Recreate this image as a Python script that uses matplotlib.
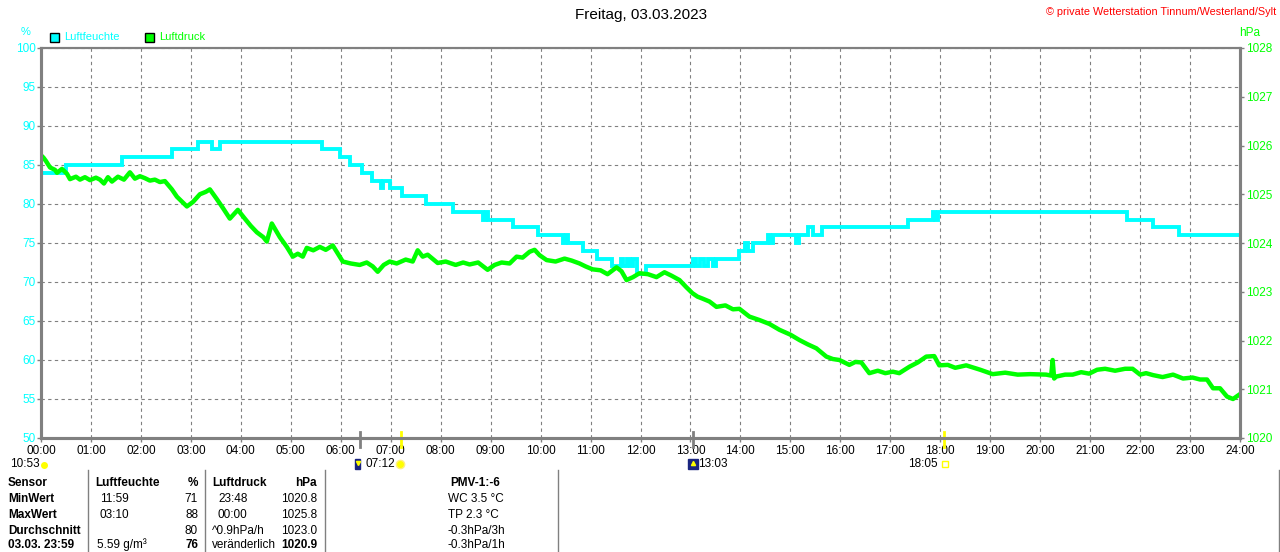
import matplotlib.pyplot as plt
import matplotlib.transforms as mtransforms
from matplotlib.lines import Line2D
from matplotlib.patches import Rectangle

plt.rcParams['font.family'] = ['Liberation Sans', 'DejaVu Sans']

CYAN = '#00FFFF'
GREEN = '#00FF00'
GRAY = '#808080'
YELLOW = '#FFFF00'
NAVY = '#1A2580'

# Luftfeuchte (%), hours since midnight, stepped values
hum_t = [0, 0.5, 1.62, 2.62, 3.14, 3.42, 3.58, 5.62, 5.98, 6.18, 6.42, 6.62,
         6.8, 6.85, 6.98, 7.22, 7.7, 8.25, 8.85, 8.9, 8.95, 9.45, 9.95, 10.45,
         10.5, 10.55, 10.85, 11.12, 11.43, 11.6, 11.65, 11.72, 11.78, 11.84,
         11.93, 12.12, 13.05, 13.12, 13.2, 13.28, 13.36, 13.45, 13.52, 13.6,
         13.98, 14.1, 14.15, 14.25, 14.55, 14.6, 14.65, 15.12, 15.17, 15.35,
         15.45, 15.63, 17.35, 17.85, 17.9, 17.95, 21.73, 22.25, 22.78, 24]
hum_v = [84, 85, 86, 87, 88, 87, 88, 87, 86, 85, 84, 83,
         82, 83, 82, 81, 80, 79, 78, 79, 78, 77, 76, 75,
         76, 75, 74, 73, 72, 73, 72, 73, 72, 73,
         71, 72, 73, 72, 73, 72, 73, 72, 73, 73,
         74, 75, 74, 75, 76, 75, 76, 75, 76, 77,
         76, 77, 78, 79, 78, 79, 78, 77, 76, 76]

# Luftdruck (hPa)
pres_t = [0, 0.05, 0.1, 0.18, 0.28, 0.32, 0.42, 0.52, 0.58, 0.7, 0.78, 0.88,
          0.98, 1.1, 1.18, 1.26, 1.34, 1.42, 1.54, 1.66, 1.78, 1.88, 1.98,
          2.08, 2.18, 2.28, 2.38, 2.48, 2.62, 2.72, 2.82, 2.92, 3.04, 3.18,
          3.3, 3.38, 3.52, 3.64, 3.78, 3.94, 4.08, 4.2, 4.32, 4.45, 4.52,
          4.62, 4.78, 4.92, 5.04, 5.14, 5.24, 5.32, 5.45, 5.58, 5.7, 5.84,
          6.04, 6.2, 6.38, 6.52, 6.64, 6.74, 6.86, 6.98, 7.12, 7.3, 7.44,
          7.54, 7.64, 7.74, 7.94, 8.1, 8.3, 8.45, 8.58, 8.75, 8.94, 9.08,
          9.22, 9.38, 9.52, 9.64, 9.78, 9.88, 9.98, 10.12, 10.3, 10.48, 10.62,
          10.78, 10.9, 11.04, 11.2, 11.34, 11.52, 11.62, 11.72, 11.85, 11.98,
          12.15, 12.32, 12.48, 12.62, 12.78, 12.92, 13.04, 13.14, 13.24, 13.38,
          13.52, 13.7, 13.85, 13.98, 14.18, 14.38, 14.58, 14.78, 15.0, 15.18,
          15.35, 15.52, 15.72, 15.85, 15.98, 16.18, 16.3, 16.42, 16.58, 16.75,
          16.9, 17.05, 17.18, 17.38, 17.55, 17.72, 17.88, 17.98, 18.15, 18.3,
          18.52, 18.8, 19.05, 19.3, 19.55, 19.8, 20.12, 20.22, 20.25, 20.28,
          20.32, 20.5, 20.65, 20.82, 20.98, 21.14, 21.3, 21.5, 21.7, 21.85,
          22.0, 22.12, 22.26, 22.45, 22.66, 22.86, 23.05, 23.2, 23.34, 23.46,
          23.6, 23.74, 23.86, 24]
pres_v = [1025.8, 1025.75, 1025.68, 1025.55, 1025.5, 1025.44, 1025.52, 1025.42,
          1025.31, 1025.36, 1025.3, 1025.35, 1025.29, 1025.34, 1025.3, 1025.22,
          1025.35, 1025.26, 1025.36, 1025.3, 1025.45, 1025.32, 1025.37,
          1025.33, 1025.28, 1025.3, 1025.25, 1025.27, 1025.1, 1024.95,
          1024.85, 1024.75, 1024.84, 1025.0, 1025.05, 1025.1, 1024.9, 1024.72,
          1024.5, 1024.68, 1024.5, 1024.35, 1024.22, 1024.12, 1024.03,
          1024.4, 1024.12, 1023.92, 1023.72, 1023.78, 1023.72, 1023.9,
          1023.85, 1023.92, 1023.86, 1023.95, 1023.62, 1023.58, 1023.55,
          1023.6, 1023.52, 1023.41, 1023.55, 1023.62, 1023.58, 1023.66,
          1023.62, 1023.85, 1023.72, 1023.76, 1023.59, 1023.62, 1023.55,
          1023.6, 1023.56, 1023.6, 1023.45, 1023.55, 1023.6, 1023.58, 1023.72,
          1023.7, 1023.82, 1023.86, 1023.75, 1023.65, 1023.62, 1023.68,
          1023.64, 1023.58, 1023.52, 1023.46, 1023.44, 1023.36, 1023.5,
          1023.42, 1023.24, 1023.3, 1023.38, 1023.36, 1023.3, 1023.4, 1023.33,
          1023.24, 1023.09, 1022.97, 1022.9, 1022.86, 1022.8, 1022.69, 1022.72,
          1022.64, 1022.65, 1022.49, 1022.42, 1022.34, 1022.22, 1022.12,
          1022.01, 1021.92, 1021.84, 1021.67, 1021.62, 1021.6, 1021.5, 1021.56,
          1021.55, 1021.33, 1021.38, 1021.33, 1021.36, 1021.33, 1021.46,
          1021.55, 1021.67, 1021.68, 1021.49, 1021.5, 1021.44, 1021.49, 1021.4,
          1021.31, 1021.34, 1021.3, 1021.31, 1021.3, 1021.28, 1021.6, 1021.22,
          1021.26, 1021.3, 1021.3, 1021.35, 1021.32, 1021.4, 1021.42, 1021.38,
          1021.42, 1021.42, 1021.3, 1021.33, 1021.29, 1021.25, 1021.3, 1021.22,
          1021.24, 1021.2, 1021.2, 1021.02, 1021.02, 1020.85, 1020.8, 1020.9]

hours = list(range(25))
hour_labels = ["%02d:00" % h for h in hours]
hum_ticks = [50, 55, 60, 65, 70, 75, 80, 85, 90, 95, 100]
pres_ticks = [1020, 1021, 1022, 1023, 1024, 1025, 1026, 1027, 1028]

grey_marks = [6.38, 13.05]    # Mond/Daemmerung
sun_marks = [7.2, 18.08]      # Sonnenaufgang / -untergang

# table columns: (text, x px, align, bold)
table_rows = [
    [("Sensor", 8, "left", True), ("Luftfeuchte", 95, "left", True), ("%", 198, "right", True),
     ("Luftdruck", 212, "left", True), ("hPa", 317, "right", True), ("PMV-1:-6", 475, "center", True)],
    [("MinWert", 8, "left", True), ("11:59", 100, "left", False), ("71", 198, "right", False),
     ("23:48", 218, "left", False), ("1020.8", 317, "right", False), ("WC 3.5 °C", 448, "left", False)],
    [("MaxWert", 8, "left", True), ("03:10", 100, "left", False), ("88", 198, "right", False),
     ("00:00", 218, "left", False), ("1025.8", 317, "right", False), ("TP 2.3 °C", 448, "left", False)],
    [("Durchschnitt", 8, "left", True), ("80", 198, "right", False),
     ("^0.9hPa/h", 212, "left", False), ("1023.0", 317, "right", False), ("-0.3hPa/3h", 447, "left", False)],
    [("03.03. 23:59", 8, "left", True), ("5.59 g/m³", 97, "left", False), ("76", 198, "right", True),
     ("veränderlich", 212, "left", False), ("1020.9", 317, "right", True), ("-0.3hPa/1h", 447, "left", False)],
]
row_y = [483, 499, 515, 531, 545]


def fx(px):
    return px / 1280


def fy(py):
    return 1 - py / 552


fig = plt.figure(figsize=(12.8, 5.52), dpi=100)
ax = fig.add_axes([fx(41), fy(438), (1240 - 41) / 1280, (438 - 48) / 552])
ax2 = ax.twinx()

ax.plot(hum_t, hum_v, color=CYAN, lw=2.8, drawstyle='steps-post', solid_joinstyle='miter')
ax2.plot(pres_t, pres_v, color=GREEN, lw=3.2)

ax.set_xlim(0, 24)
ax.set_ylim(50, 100)
ax2.set_ylim(1020, 1028)

ax.set_xticks(hours)
ax.set_xticklabels(hour_labels)
ax.set_yticks(hum_ticks)
ax2.set_yticks(pres_ticks)

ax.grid(True, color=GRAY, linestyle=(0, (3, 3)), linewidth=0.8)
ax.tick_params(axis='x', colors=GRAY, labelcolor='black', length=3, width=1, labelsize=8.5, pad=2)
ax.tick_params(axis='y', colors=GRAY, labelcolor=CYAN, length=3, width=1, labelsize=8.5, pad=1)
ax2.tick_params(axis='y', colors=GRAY, labelcolor=GREEN, length=3, width=1, labelsize=8.5, pad=1)

for a in (ax, ax2):
    for side in ('left', 'right', 'bottom'):
        a.spines[side].set_color(GRAY)
        a.spines[side].set_linewidth(2.2)
    a.spines['top'].set_color(GRAY)
    a.spines['top'].set_linewidth(1.5)

# markers under the time axis
trans = mtransforms.blended_transform_factory(ax.transData, ax.transAxes)
for t in grey_marks:
    ax.plot([t, t], [0.015, -0.022], transform=trans, color=GRAY, lw=2, clip_on=False, zorder=5)
for t in sun_marks:
    ax.plot([t, t], [0.015, -0.024], transform=trans, color=YELLOW, lw=2, clip_on=False, zorder=5)

# sun / moon times
fig.text(fx(10), fy(464), "10:53", fontsize=8.5, va='center')
fig.add_artist(Line2D([fx(44)], [fy(465)], marker='o', ms=4, color=YELLOW, transform=fig.transFigure))
fig.add_artist(Rectangle((fx(355), fy(469)), 5 / 1280, 10 / 552, color=NAVY, transform=fig.transFigure))
fig.add_artist(Line2D([fx(357.5)], [fy(463)], marker='v', ms=3, color=YELLOW, transform=fig.transFigure))
fig.text(fx(366), fy(464), "07:12", fontsize=8.5, va='center')
fig.add_artist(Line2D([fx(400)], [fy(464)], marker='o', ms=6, color=YELLOW, mec='#FFF080',
                      transform=fig.transFigure))
fig.add_artist(Rectangle((fx(688), fy(469)), 10 / 1280, 10 / 552, color=NAVY, transform=fig.transFigure))
fig.add_artist(Line2D([fx(693)], [fy(463)], marker='^', ms=3, color=YELLOW, transform=fig.transFigure))
fig.text(fx(698), fy(464), "13:03", fontsize=8.5, va='center')
fig.text(fx(938), fy(464), "18:05", fontsize=8.5, va='center', ha='right')
fig.add_artist(Line2D([fx(945)], [fy(464)], marker='s', ms=4, mfc='none', mec=YELLOW,
                      transform=fig.transFigure))

# titles and labels
fig.text(fx(641), fy(15), "Freitag, 03.03.2023", fontsize=11, ha='center', va='center')
fig.text(fx(1276), fy(12), "© private Wetterstation Tinnum/Westerland/Sylt", fontsize=7.8,
         color='#FF0000', ha='right', va='center')
fig.text(fx(26), fy(32), "%", fontsize=8, color=CYAN, ha='center', va='center')
fig.text(fx(1250), fy(33), "hPa", fontsize=8.5, color=GREEN, ha='center', va='center')

# legend
fig.add_artist(Rectangle((fx(50), fy(42)), 9 / 1280, 9 / 552, facecolor=CYAN, edgecolor='black',
                         lw=1, transform=fig.transFigure))
fig.text(fx(64), fy(37), "Luftfeuchte", fontsize=8, color=CYAN, va='center')
fig.add_artist(Rectangle((fx(145), fy(42)), 9 / 1280, 9 / 552, facecolor=GREEN, edgecolor='black',
                         lw=1, transform=fig.transFigure))
fig.text(fx(159), fy(37), "Luftdruck", fontsize=8, color=GREEN, va='center')

# table
for xs in (88, 205, 325, 558):
    fig.add_artist(Line2D([fx(xs), fx(xs)], [fy(470), 0], color=GRAY, lw=1, transform=fig.transFigure))
fig.add_artist(Line2D([fx(1279), fx(1279)], [fy(470), 0], color=GRAY, lw=1, transform=fig.transFigure))
for cells, yy in zip(table_rows, row_y):
    for text, xpx, align, bold in cells:
        fig.text(fx(xpx), fy(yy), text, fontsize=8.5, ha=align, va='center',
                 fontweight='bold' if bold else 'normal')

fig.savefig("out.png", dpi=100)
